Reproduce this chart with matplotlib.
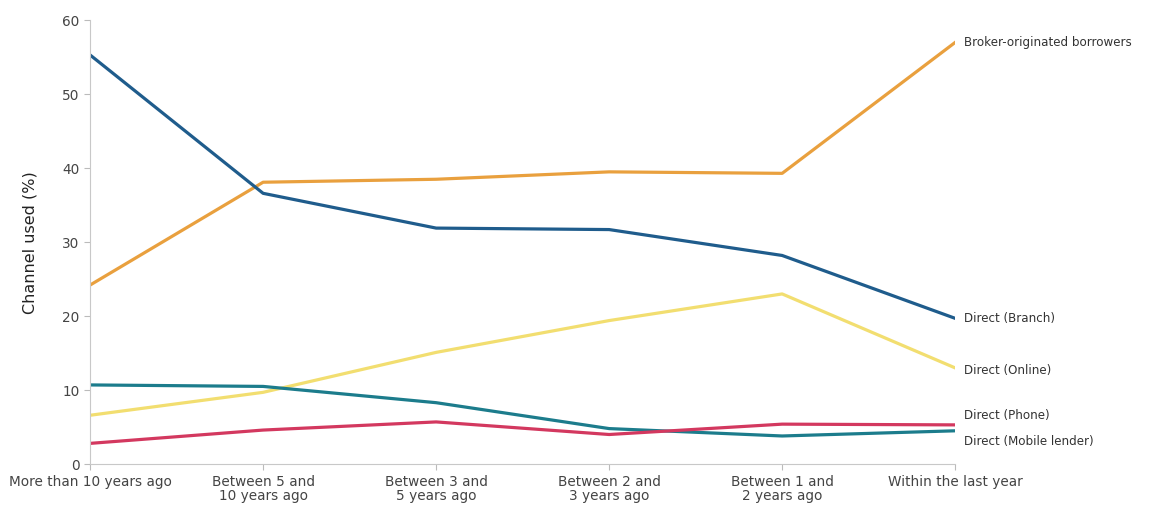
import numpy as np
import matplotlib.pyplot as plt

categories = ["More than 10 years ago", "Between 5 and\n10 years ago", "Between 3 and\n5 years ago",
              "Between 2 and\n3 years ago", "Between 1 and\n2 years ago", "Within the last year"]

broker = [24.2, 38.1, 38.5, 39.5, 39.3, 57.0]
branch = [55.3, 36.6, 31.9, 31.7, 28.2, 19.7]
online = [6.6, 9.7, 15.1, 19.4, 23.0, 13.0]
phone = [2.8, 4.6, 5.7, 4.0, 5.4, 5.3]
mobile = [10.7, 10.5, 8.3, 4.8, 3.8, 4.5]

series = [
    ("Broker-originated borrowers", broker, "#E9A03E", 0),
    ("Direct (Branch)", branch, "#1F5C8C", 0),
    ("Direct (Online)", online, "#F2DE70", -2),
    ("Direct (Mobile lender)", mobile, "#1C7C8C", -8),
    ("Direct (Phone)", phone, "#D3385F", 7),
]

fig = plt.figure(figsize=(11.55, 5.05), dpi=100)
ax = fig.add_axes([0.078, 0.081, 0.749, 0.879])
x = np.arange(len(categories))

for name, vals, color, dy in series:
    ax.plot(x, vals, color=color, lw=2.3, solid_joinstyle="round")
    ax.annotate(name, xy=(x[-1], vals[-1]), xytext=(6, dy), textcoords="offset points",
                va="center", ha="left", fontsize=8.6, color="#333333", annotation_clip=False)

ax.set_xlim(0, len(categories) - 1)
ax.set_ylim(0, 60)
ax.set_yticks(range(0, 61, 10))
ax.set_xticks(x)
ax.set_xticklabels(categories, fontsize=9.8, color="#444444", linespacing=1.05)
ax.tick_params(axis="y", labelsize=9.8, labelcolor="#444444", color="#bbbbbb", length=4)
ax.tick_params(axis="x", color="#bbbbbb", length=4)
ax.set_ylabel("Channel used (%)", fontsize=11.5, color="#222222", labelpad=18)

for s in ["top", "right"]:
    ax.spines[s].set_visible(False)
for s in ["left", "bottom"]:
    ax.spines[s].set_color("#c8c8c8")

fig.savefig("out.png", dpi=100)
